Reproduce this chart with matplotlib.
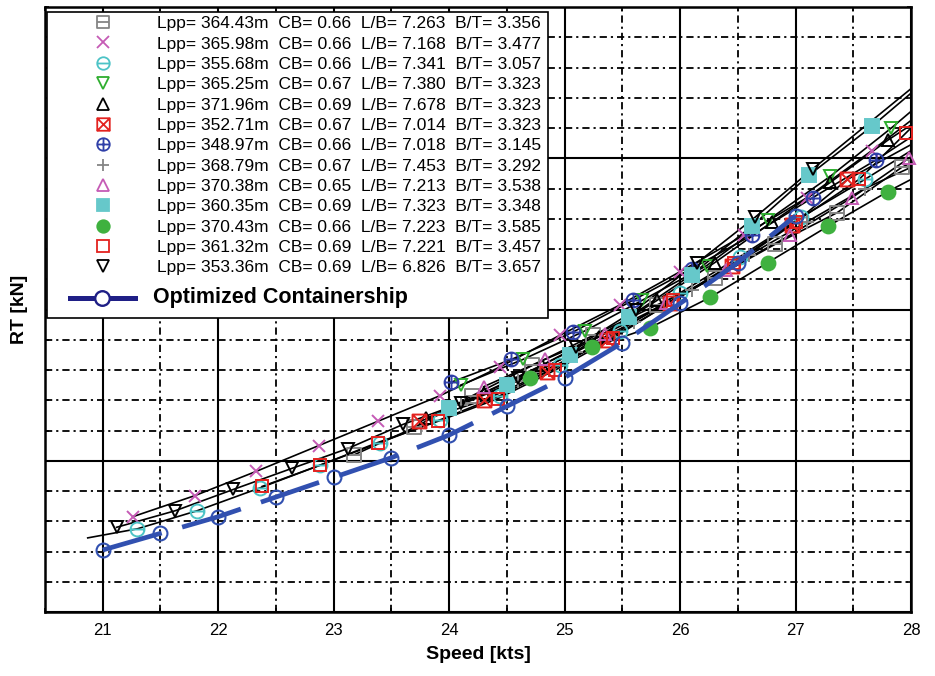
import matplotlib
matplotlib.use("Agg")
import matplotlib.pyplot as plt
from matplotlib.path import Path
from matplotlib.lines import Line2D
from matplotlib.patches import Rectangle
from matplotlib.ticker import MultipleLocator

plt.rcParams['font.family'] = ['Liberation Sans', 'DejaVu Sans']

# ---------------------------------------------------------------- data
SERIES_LABELS = [
    "Lpp= 364.43m  CB= 0.66  L/B= 7.263  B/T= 3.356",
    "Lpp= 365.98m  CB= 0.66  L/B= 7.168  B/T= 3.477",
    "Lpp= 355.68m  CB= 0.66  L/B= 7.341  B/T= 3.057",
    "Lpp= 365.25m  CB= 0.67  L/B= 7.380  B/T= 3.323",
    "Lpp= 371.96m  CB= 0.69  L/B= 7.678  B/T= 3.323",
    "Lpp= 352.71m  CB= 0.67  L/B= 7.014  B/T= 3.323",
    "Lpp= 348.97m  CB= 0.66  L/B= 7.018  B/T= 3.145",
    "Lpp= 368.79m  CB= 0.67  L/B= 7.453  B/T= 3.292",
    "Lpp= 370.38m  CB= 0.65  L/B= 7.213  B/T= 3.538",
    "Lpp= 360.35m  CB= 0.69  L/B= 7.323  B/T= 3.348",
    "Lpp= 370.43m  CB= 0.66  L/B= 7.223  B/T= 3.585",
    "Lpp= 361.32m  CB= 0.69  L/B= 7.221  B/T= 3.457",
    "Lpp= 353.36m  CB= 0.69  L/B= 6.826  B/T= 3.657",
]
OPTIMIZED_LABEL = "Optimized Containership"

# speed [kts] / total resistance [kN] for each parent hull
LPP_364_SPEED = [23.18, 23.7, 24.2, 24.72, 25.25, 25.8, 26.3, 26.82, 27.36, 27.92]
LPP_364_RT = [1520, 1610, 1715, 1815, 1915, 2015, 2105, 2215, 2320, 2470]

LPP_366_SPEED = [21.26, 21.8, 22.33, 22.87, 23.38, 23.92, 24.44, 24.96, 25.48, 26.0, 26.55, 27.1, 27.66]
LPP_366_RT = [1315, 1385, 1465, 1550, 1630, 1715, 1810, 1915, 2015, 2125, 2245, 2370, 2525]

LPP_356_SPEED = [21.3, 21.82, 22.36, 22.88, 23.4, 23.92, 24.44, 24.96, 25.48, 26.0, 26.52, 27.05, 27.6]
LPP_356_RT = [1275, 1335, 1410, 1485, 1560, 1635, 1715, 1815, 1930, 2055, 2175, 2305, 2430]

LPP_365_SPEED = [24.1, 24.64, 25.18, 25.67, 26.23, 26.76, 27.3, 27.83]
LPP_365_RT = [1750, 1835, 1930, 2030, 2145, 2295, 2440, 2600]

LPP_372_SPEED = [23.8, 24.3, 24.8, 25.3, 25.8, 26.3, 26.8, 27.3, 27.8]
LPP_372_RT = [1640, 1725, 1815, 1910, 2030, 2155, 2290, 2420, 2560]

LPP_353_SPEED = [23.74, 24.3, 24.85, 25.37, 25.91, 26.45, 26.97, 27.45]
LPP_353_RT = [1630, 1700, 1795, 1900, 2020, 2145, 2280, 2430]

LPP_349_SPEED = [24.02, 24.54, 25.07, 25.59, 26.1, 26.62, 27.15, 27.7]
LPP_349_RT = [1760, 1835, 1925, 2030, 2135, 2245, 2370, 2495]

LPP_369_SPEED = [24.1, 24.6, 25.1, 25.6, 26.1, 26.6, 27.1, 27.6]
LPP_369_RT = [1685, 1765, 1860, 1960, 2065, 2180, 2290, 2400]

LPP_370_SPEED = [24.3, 24.83, 25.35, 25.88, 26.4, 26.95, 27.49, 27.98]
LPP_370_RT = [1745, 1835, 1920, 2020, 2130, 2245, 2370, 2500]

LPP_360_SPEED = [24.0, 24.5, 25.05, 25.56, 26.1, 26.62, 27.12, 27.66]
LPP_360_RT = [1675, 1750, 1850, 1975, 2115, 2275, 2445, 2605]

LPP_3704_SPEED = [24.7, 25.24, 25.74, 26.26, 26.76, 27.28, 27.8]
LPP_3704_RT = [1775, 1875, 1940, 2040, 2155, 2275, 2390]

LPP_361_SPEED = [22.38, 22.88, 23.38, 23.9, 24.42, 24.92, 25.42, 25.94, 26.47, 27.0, 27.55, 27.96]
LPP_361_RT = [1415, 1485, 1560, 1630, 1705, 1800, 1905, 2030, 2155, 2290, 2430, 2585]

LPP_3534_SPEED = [21.12, 21.63, 22.13, 22.64, 23.12, 23.6, 24.1, 24.6, 25.1, 25.62, 26.15, 26.65, 27.15]
LPP_3534_RT = [1280, 1335, 1405, 1475, 1540, 1620, 1690, 1775, 1875, 2000, 2155, 2305, 2465]

# resistance of each regression curve at the 28 kts edge
CURVE_END_SPEED = 28.0
CURVE_END_RT = [2485, 2625, 2525, 2655, 2610, 2545, 2570, 2470, 2505, 2715, 2430, 2600, 2730]

# the 355.68 m curve starts below the first sample point
LPP_356_CURVE_START = (20.87, 1245)

OPT_SPEED = [21.0, 21.5, 22.0, 22.5, 23.0, 23.5, 24.0, 24.5, 25.0, 25.5, 26.0, 26.5, 27.0]
OPT_RT = [1205, 1260, 1315, 1380, 1445, 1510, 1585, 1680, 1775, 1890, 2020, 2155, 2310]

X_TICKS = [21, 22, 23, 24, 25, 26, 27, 28]

# ---------------------------------------------------------------- markers
M, L, C = Path.MOVETO, Path.LINETO, Path.CLOSEPOLY
_sq = Path([(-1, -1), (1, -1), (1, 1), (-1, 1), (-1, -1)], [M, L, L, L, C])
_h = Path([(-1, 0), (1, 0)], [M, L])
_v = Path([(0, -1), (0, 1)], [M, L])
_d1 = Path([(-1, -1), (1, 1)], [M, L])
_d2 = Path([(-1, 1), (1, -1)], [M, L])
_circ = Path.unit_circle()
SQ_MINUS = Path.make_compound_path(_sq, _h)
SQ_CROSS = Path.make_compound_path(_sq, _d1, _d2)
CIRC_MINUS = Path.make_compound_path(_circ, _h)
CIRC_PLUS = Path.make_compound_path(_circ, _h, _v)

GRAY = "#858585"
MAGENTA = "#c55bb5"
CYAN = "#4cc3c6"
GREEN = "#2fae2f"
RED = "#e3221f"
BLUE = "#2f3fa8"
OPT_BLUE = "#3150b0"
NAVY = "#1f1f86"

# (marker, size, face, edge)
STYLES = [
    (SQ_MINUS, 10, "none", GRAY),
    ("x", 9, "none", MAGENTA),
    (CIRC_MINUS, 10, "none", CYAN),
    ("v", 9, "none", GREEN),
    ("^", 9, "none", "black"),
    (SQ_CROSS, 10, "none", RED),
    (CIRC_PLUS, 10, "none", BLUE),
    ("+", 10, "none", GRAY),
    ("^", 9, "none", MAGENTA),
    ("s", 10, "#66c8ca", "#66c8ca"),
    ("o", 10, "#3fb13f", "#3fb13f"),
    ("s", 9, "none", RED),
    ("v", 9, "none", "black"),
]

SPEEDS = [LPP_364_SPEED, LPP_366_SPEED, LPP_356_SPEED, LPP_365_SPEED, LPP_372_SPEED,
          LPP_353_SPEED, LPP_349_SPEED, LPP_369_SPEED, LPP_370_SPEED, LPP_360_SPEED,
          LPP_3704_SPEED, LPP_361_SPEED, LPP_3534_SPEED]
RTS = [LPP_364_RT, LPP_366_RT, LPP_356_RT, LPP_365_RT, LPP_372_RT,
       LPP_353_RT, LPP_349_RT, LPP_369_RT, LPP_370_RT, LPP_360_RT,
       LPP_3704_RT, LPP_361_RT, LPP_3534_RT]

# ---------------------------------------------------------------- figure
W, H = 935, 676
AX_L, AX_R, AX_T, AX_B = 45, 911, 7, 612
fig = plt.figure(figsize=(W / 100, H / 100), dpi=100)
ax = fig.add_axes([AX_L / W, 1 - AX_B / H, (AX_R - AX_L) / W, (AX_B - AX_T) / H])


def px_to_axes(x, y):
    """Figure pixel position (from top-left) to axes fraction."""
    return (x - AX_L) / (AX_R - AX_L), (AX_B - y) / (AX_B - AX_T)


ax.set_xlim(20.5, 28.0)
ax.set_ylim(1000, 3000)
ax.xaxis.set_major_locator(MultipleLocator(1))
ax.xaxis.set_minor_locator(MultipleLocator(0.5))
ax.yaxis.set_major_locator(MultipleLocator(500))
ax.yaxis.set_minor_locator(MultipleLocator(100))
ax.set_xticks(X_TICKS)

ax.grid(which="major", color="black", linewidth=1.5, linestyle="-", zorder=1)
ax.grid(which="minor", color="black", linewidth=1.3, linestyle=(0, (4, 2.2, 1.2, 2.2)), zorder=1)
ax.set_axisbelow(True)

ax.tick_params(which="both", direction="in", top=True, right=True, length=3,
               width=1.2, labelleft=False)
ax.tick_params(axis="x", which="major", labelsize=12, pad=8)
for s in ax.spines.values():
    s.set_linewidth(1.8)

# regression curves with their sample points
for i, (sx, sy) in enumerate(zip(SPEEDS, RTS)):
    cx = list(sx) + [CURVE_END_SPEED]
    cy = list(sy) + [CURVE_END_RT[i]]
    if i == 2:
        cx = [LPP_356_CURVE_START[0]] + cx
        cy = [LPP_356_CURVE_START[1]] + cy
    ax.plot(cx, cy, color="black", linewidth=1.2, zorder=3)

for i, (sx, sy) in enumerate(zip(SPEEDS, RTS)):
    mk, ms, fc, ec = STYLES[i]
    ax.plot(sx, sy, linestyle="none", marker=mk, markersize=ms,
            markerfacecolor=fc, markeredgecolor=ec, markeredgewidth=1.4,
            zorder=4, clip_on=False)

ax.plot(OPT_SPEED, OPT_RT, color=OPT_BLUE, linewidth=3.4, dashes=(13, 4.5),
        solid_capstyle="butt", dash_capstyle="butt", zorder=5)
ax.plot(OPT_SPEED, OPT_RT, linestyle="none", marker="o", markersize=10,
        markerfacecolor="none", markeredgecolor=OPT_BLUE, markeredgewidth=1.5, zorder=6)

ax.set_xlabel("Speed [kts]", fontsize=14, fontweight="bold", labelpad=6)
ax.set_ylabel("RT [kN]", fontsize=14, fontweight="bold", labelpad=12)

# legend box
x0, y1 = px_to_axes(47, 12)
x1, y0 = px_to_axes(548, 318)
ax.add_patch(Rectangle((x0, y0), x1 - x0, y1 - y0, transform=ax.transAxes,
                       facecolor="white", edgecolor="black", linewidth=1.2,
                       zorder=9, clip_on=False))

handles = []
for mk, ms, fc, ec in STYLES:
    handles.append(Line2D([], [], linestyle="none", marker=mk, markersize=9,
                          markerfacecolor=fc, markeredgecolor=ec, markeredgewidth=1.3))
ax_anchor = px_to_axes(70, 16)
leg = ax.legend(handles, SERIES_LABELS, loc="upper left",
                bbox_to_anchor=ax_anchor, borderaxespad=0, borderpad=0,
                fontsize=12.5, frameon=False,
                handlelength=3.75, handletextpad=1.26, labelspacing=0.3)
leg.set_zorder(10)

# optimized design entry
hx0, hy = px_to_axes(70, 298)
hx1, _ = px_to_axes(135, 298)
hxm, _ = px_to_axes(102.5, 298)
ax.add_line(Line2D([hx0, hx1], [hy, hy], transform=ax.transAxes, color=NAVY,
                   linewidth=3.6, zorder=11, clip_on=False))
ax.add_line(Line2D([hxm], [hy], transform=ax.transAxes, linestyle="none", marker="o",
                   markersize=10.5, markerfacecolor="white", markeredgecolor=NAVY,
                   markeredgewidth=1.7, zorder=12, clip_on=False))
tx, _ = px_to_axes(153, 298)
ax.text(tx, hy, OPTIMIZED_LABEL, transform=ax.transAxes, fontsize=15.5,
        fontweight="bold", va="center", ha="left", zorder=12)

fig.savefig("out.png", dpi=100)
